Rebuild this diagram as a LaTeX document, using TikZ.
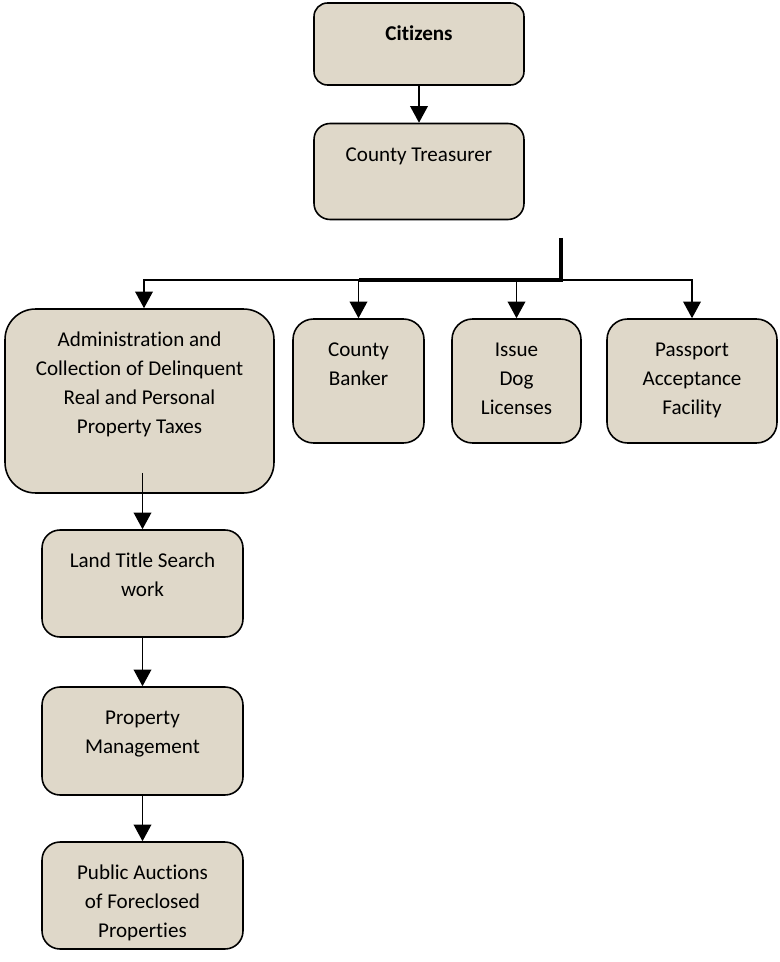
\documentclass[tikz,border=0pt]{standalone}
\usepackage{fontspec}
\setmainfont[Ligatures=NoCommon]{Carlito}
\usetikzlibrary{arrows.meta}
\definecolor{parchment}{RGB}{223,216,201}
\newcommand{\boxtext}[3]{\parbox[c][#2][t]{#1}{\centering\vspace*{10pt}\strut#3}}
\tikzset{
  card/.style={draw, fill=parchment, line width=0.9pt, inner sep=0pt, font=\fontsize{12}{16.5}\selectfont},
  arr/.style={-{Triangle[length=9.5pt,width=10pt]}, line width=1.1pt},
  trunk/.style={line width=1.8pt}
}

\begin{document}
\begin{tikzpicture}[x=0.02cm, y=-0.02cm]
\useasboundingbox (0,0) rectangle (779,962);
\node[card, rounded corners=0.27cm] (cit) at (419,44) {\boxtext{4.2cm}{1.64cm}{\textbf{Citizens}}};
\node[card, rounded corners=0.32cm] (tre) at (419,171.5) {\boxtext{4.2cm}{1.92cm}{County Treasurer}};
\draw[arr] (cit) -- (tre);

\node[card, rounded corners=0.61cm] (adm) at (139.5,401) {\boxtext{5.38cm}{3.68cm}{Administration and\\Collection of Delinquent\\Real and Personal\\Property Taxes}};
\node[card, rounded corners=0.41cm] (bnk) at (358.5,381) {\boxtext{2.62cm}{2.48cm}{County\\Banker}};
\node[card, rounded corners=0.41cm] (dog) at (516.5,381) {\boxtext{2.58cm}{2.48cm}{Issue\\Dog\\Licenses}};
\node[card, rounded corners=0.41cm] (pas) at (692,381) {\boxtext{3.4cm}{2.48cm}{Passport\\Acceptance\\Facility}};

\coordinate (top) at (561,238);
\coordinate (jn) at (561,280);
\draw[trunk] (top) -- (jn) -- (jn -| bnk);
\draw[arr] (jn) -| ([xshift=0.09cm]adm.north);
\draw[arr] (jn) -| (bnk);
\draw[arr] (jn) -| (dog);
\draw[arr] (jn) -| (pas);

\node[card, rounded corners=0.36cm] (lnd) at (142.5,583.5) {\boxtext{4.02cm}{2.14cm}{Land Title Search\\work}};
\node[card, rounded corners=0.36cm] (prp) at (142.5,741) {\boxtext{4.02cm}{2.16cm}{Property\\Management}};
\node[card, rounded corners=0.36cm] (pub) at (142.5,895.5) {\boxtext{4.02cm}{2.14cm}{Public Auctions\\of Foreclosed\\Properties}};
\draw[arr] ([yshift=0.42cm]lnd.north |- adm.south) -- (lnd);
\draw[arr] (lnd) -- (prp);
\draw[arr] (prp) -- (pub);
\end{tikzpicture}
\end{document}
